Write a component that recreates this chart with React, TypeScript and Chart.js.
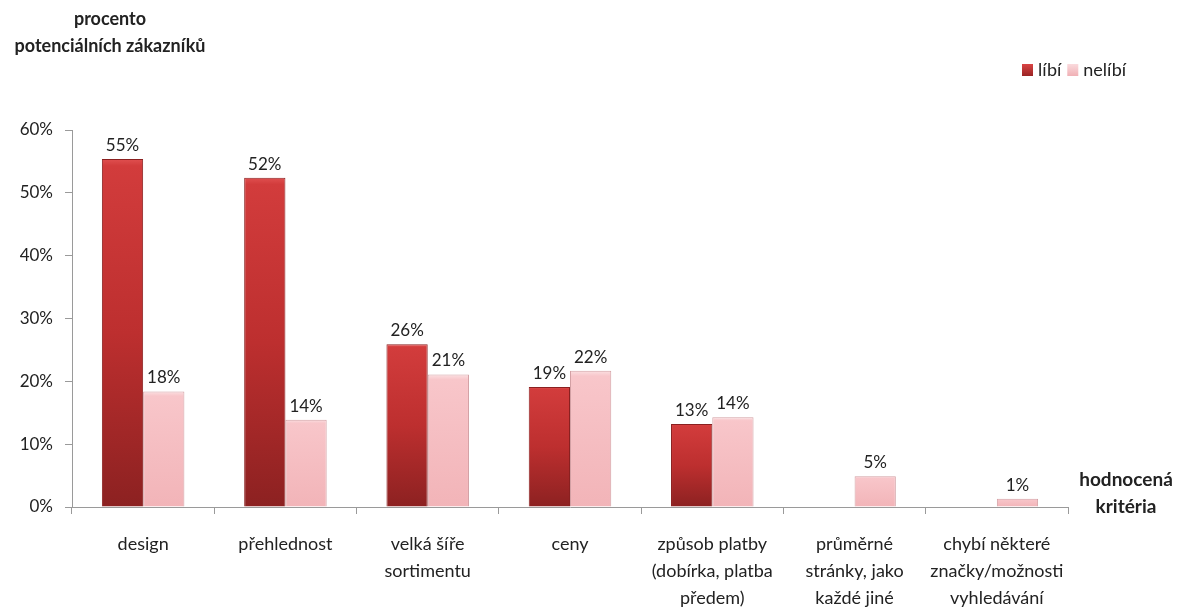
import React, { useEffect, useRef } from "react";
import { Chart, registerables } from "chart.js";

Chart.register(...registerables);

const categories: string[][] = [
  ["design"],
  ["přehlednost"],
  ["velká šíře", "sortimentu"],
  ["ceny"],
  ["způsob platby", "(dobírka, platba", "předem)"],
  ["průměrné", "stránky, jako", "každé jiné"],
  ["chybí některé", "značky/možnosti", "vyhledávání"],
];
const libi: (number | null)[] = [55.4, 52.4, 25.9, 19.1, 13.2, null, null];
const nelibi: (number | null)[] = [18.4, 13.9, 21.1, 21.7, 14.3, 4.9, 1.3];
const seriesNames = ["líbí", "nelíbí"];
const yTicks = [0, 10, 20, 30, 40, 50, 60];
const yTitle = ["procento", "potenciálních zákazníků"];
const xTitle = ["hodnocená", "kritéria"];

const FONT = "Lato, 'Open Sans', sans-serif";
const TEXT = "#222222";
const AXIS = "#9a9a9a";

const swatch = ["#c0302f", "#f5bcc0"];

function barGradient(ctx: any, dsIndex: number) {
  const chart = ctx.chart;
  const v = ctx.raw;
  const y = chart.scales && chart.scales.y;
  if (!y || v == null) return swatch[dsIndex];
  const top = y.getPixelForValue(v);
  const bottom = y.getPixelForValue(0);
  if (!isFinite(top) || !isFinite(bottom) || top === bottom) return swatch[dsIndex];
  const g = chart.ctx.createLinearGradient(0, top, 0, bottom);
  if (dsIndex === 0) {
    g.addColorStop(0, "#e05050");
    g.addColorStop(0.02, "#d23c3c");
    g.addColorStop(0.5, "#bd2f2f");
    g.addColorStop(1, "#8c2121");
  } else {
    g.addColorStop(0, "#fbe0e2");
    g.addColorStop(0.04, "#f8c6ca");
    g.addColorStop(1, "#f2b4b8");
  }
  return g;
}

const overlayPlugin = {
  id: "overlay",
  afterDatasetsDraw(chart: any) {
    const ctx = chart.ctx;
    ctx.save();
    ctx.fillStyle = TEXT;
    ctx.font = `17px ${FONT}`;
    ctx.textAlign = "center";
    ctx.textBaseline = "bottom";
    chart.data.datasets.forEach((ds: any, di: number) => {
      const meta = chart.getDatasetMeta(di);
      meta.data.forEach((el: any, i: number) => {
        const v = ds.data[i];
        if (v == null) return;
        ctx.fillText(`${Math.round(v)}%`, el.x, el.y - 5);
      });
    });
    ctx.restore();
  },
  afterDraw(chart: any) {
    const ctx = chart.ctx;
    const area = chart.chartArea;
    ctx.save();
    // axis titles
    ctx.fillStyle = TEXT;
    ctx.font = `bold 18px ${FONT}`;
    ctx.textAlign = "center";
    ctx.textBaseline = "middle";
    ctx.fillText(yTitle[0], 110, 19);
    ctx.fillText(yTitle[1], 110, 46);
    ctx.font = `bold 19px ${FONT}`;
    ctx.fillText(xTitle[0], area.right + 58, area.bottom - 27);
    ctx.fillText(xTitle[1], area.right + 58, area.bottom);
    // legend
    ctx.font = `18px ${FONT}`;
    ctx.textAlign = "left";
    let x = 1022;
    const ly = 70;
    chart.data.datasets.forEach((ds: any, di: number) => {
      const g = ctx.createLinearGradient(0, ly - 6, 0, ly + 6);
      if (di === 0) {
        g.addColorStop(0, "#d94444");
        g.addColorStop(1, "#9a2424");
      } else {
        g.addColorStop(0, "#fadadd");
        g.addColorStop(1, "#f0b0b5");
      }
      ctx.fillStyle = g;
      ctx.fillRect(x, ly - 6, 11, 12);
      ctx.fillStyle = TEXT;
      ctx.fillText(ds.label, x + 16, ly);
      x += 16 + ctx.measureText(ds.label).width + 6;
    });
    ctx.restore();
  },
};

export default function App() {
  const ref = useRef<HTMLCanvasElement | null>(null);
  useEffect(() => {
    if (!ref.current) return;
    const chart = new Chart(ref.current, {
      type: "bar",
      data: {
        labels: categories,
        datasets: [
          {
            label: seriesNames[0],
            data: libi,
            backgroundColor: (c: any) => barGradient(c, 0),
            borderColor: "#8a2020",
            borderWidth: 1,
          },
          {
            label: seriesNames[1],
            data: nelibi,
            backgroundColor: (c: any) => barGradient(c, 1),
            borderColor: "#d3a0a4",
            borderWidth: 1,
          },
        ] as any,
      },
      options: {
        animation: false,
        responsive: true,
        maintainAspectRatio: false,
        layout: { padding: { top: 130, right: 116, left: 0, bottom: 0 } },
        datasets: {
          bar: { categoryPercentage: 0.58, barPercentage: 1 },
        } as any,
        plugins: {
          legend: { display: false },
          tooltip: { enabled: false },
        },
        scales: {
          x: {
            grid: {
              display: true,
              drawOnChartArea: false,
              drawTicks: true,
              tickLength: 7,
              color: AXIS,
              offset: true,
            },
            border: { display: true, color: AXIS, width: 1 },
            ticks: {
              color: TEXT,
              font: { family: FONT, size: 18, lineHeight: 1.5 },
              padding: 17,
              maxRotation: 0,
              autoSkip: false,
            },
            afterFit(scale: any) {
              scale.height = 102;
            },
          },
          y: {
            min: 0,
            max: 60,
            afterBuildTicks(scale: any) {
              scale.ticks = yTicks.map((v) => ({ value: v }));
            },
            grid: {
              display: true,
              drawOnChartArea: false,
              drawTicks: true,
              tickLength: 7,
              color: AXIS,
            },
            border: { display: true, color: AXIS, width: 1 },
            ticks: {
              color: TEXT,
              font: { family: FONT, size: 17 },
              padding: 12,
              callback: (v: any) => `${v}%`,
            },
            afterFit(scale: any) {
              scale.width = 72;
            },
          },
        },
      },
      plugins: [overlayPlugin],
    });
    return () => chart.destroy();
  }, []);
  return (
    <div style={{ position: "fixed", left: 0, top: 0, width: 1184, height: 609, background: "#fff" }}>
      <canvas ref={ref} />
    </div>
  );
}
